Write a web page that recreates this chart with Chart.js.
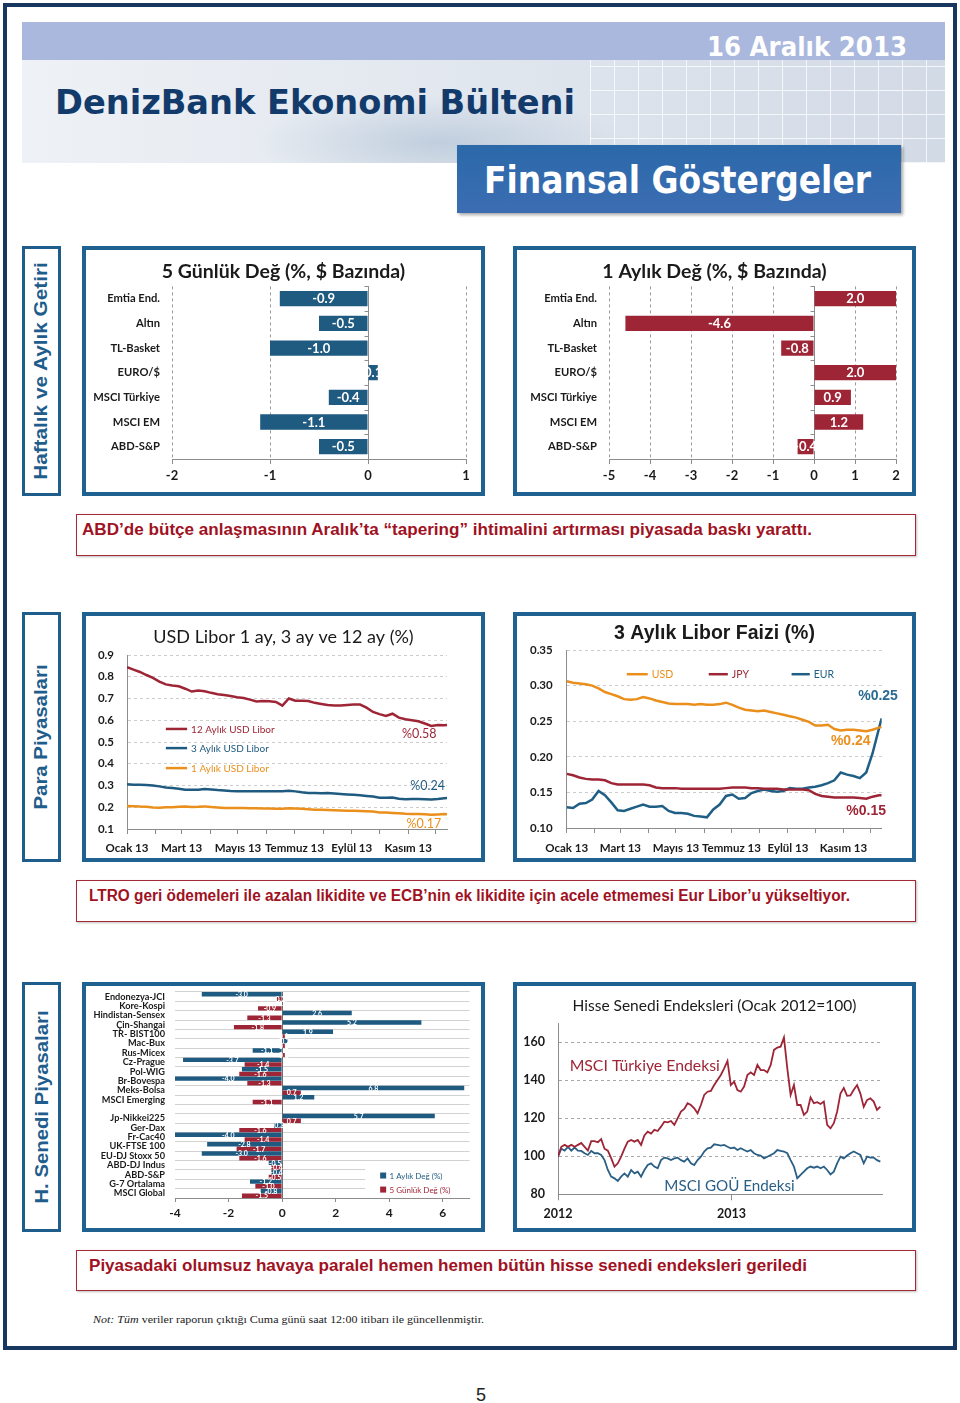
<!DOCTYPE html>
<html lang="tr"><head><meta charset="utf-8">
<title>DenizBank Ekonomi Bülteni - Finansal Göstergeler</title>
<script src="https://cdn.jsdelivr.net/npm/chart.js@4.4.1/dist/chart.umd.min.js"></script>
<style>
*{box-sizing:border-box}
html,body{margin:0;padding:0;background:#fff}
body{position:relative;width:960px;height:1403px;overflow:hidden;font-family:"Liberation Sans",Arial,sans-serif}
.a{position:absolute}
.fit{white-space:nowrap;display:inline-block;transform-origin:0 0}
#frame{left:3px;top:3px;width:954px;height:1347px;border:4px solid #17375e}
#banner{left:22px;top:22px;width:923px;height:141px;background:linear-gradient(90deg,#eef1f5 0%,#e4e9f0 40%,#d2dae6 100%)}
#band{left:22px;top:22px;width:923px;height:38px;background:#a9b8dc}
#grid{left:590px;top:60px;width:355px;height:103px;background-image:repeating-linear-gradient(90deg,rgba(255,255,255,.75) 0 1px,transparent 1px 24px),repeating-linear-gradient(0deg,rgba(255,255,255,.75) 0 1px,transparent 1px 24px)}
#shade{left:250px;top:95px;width:380px;height:68px;background:radial-gradient(ellipse at 50% 70%,rgba(150,175,200,.45),rgba(150,175,200,0) 70%)}
.title{font-family:"DejaVu Sans Condensed","DejaVu Sans",sans-serif;font-weight:bold;line-height:1}
#fbox{left:457px;top:145px;width:444px;height:68px;background:linear-gradient(180deg,#2b69a9,#3c6db3);box-shadow:2px 2px 3px rgba(0,0,0,.35)}
.sec{left:22px;width:39px;height:250px;border:3px solid #1f5d8c;background:#fff}
.vt{position:absolute;white-space:nowrap;font-weight:bold;font-size:18px;line-height:1;color:#1f5d8c;transform-origin:50% 50%}
.panel{width:403px;height:250px;border:4px solid #1f6190;background:#fff}
.panel canvas{display:block}
.cap{left:76px;width:840px;border:1.5px solid #a52a36;background:#fff;box-shadow:1px 1px 2px rgba(0,0,0,.25)}
.ct{font-weight:bold;color:#a0121f;line-height:1}
</style></head>
<body>
<div class="a" id="frame"></div>
<div class="a" id="banner"></div>
<div class="a" id="shade"></div>
<div class="a" id="grid"></div>
<div class="a" id="band"></div>
<span class="a fit title" id="tDate" style="left:707px;top:33px;font-size:27px;color:#fff">16 Aralık 2013</span>
<span class="a fit title" id="tMain" style="left:55px;top:85px;font-size:34px;color:#123a6b">DenizBank Ekonomi Bülteni</span>
<div class="a" id="fbox"></div>
<span class="a fit title" id="tFin" style="left:484px;top:162px;font-size:37px;color:#fff">Finansal Göstergeler</span>

<div class="a sec" style="top:246px"></div>
<div class="a sec" style="top:612px"></div>
<div class="a sec" style="top:982px"></div>
<div class="a" style="left:41px;top:371px"><span class="vt" id="s1">Haftalık ve Aylık Getiri</span></div>
<div class="a" style="left:41px;top:737px"><span class="vt" id="s2">Para Piyasaları</span></div>
<div class="a" style="left:41px;top:1107px"><span class="vt" id="s3">H. Senedi Piyasaları</span></div>

<div class="a panel" style="left:82px;top:246px"><canvas id="c1" width="395" height="242"></canvas></div>
<div class="a panel" style="left:513px;top:246px"><canvas id="c2" width="395" height="242"></canvas></div>
<div class="a panel" style="left:82px;top:612px"><canvas id="c3" width="395" height="242"></canvas></div>
<div class="a panel" style="left:513px;top:612px"><canvas id="c4" width="395" height="242"></canvas></div>
<div class="a panel" style="left:82px;top:982px"><canvas id="c5" width="395" height="242"></canvas></div>
<div class="a panel" style="left:513px;top:982px"><canvas id="c6" width="395" height="242"></canvas></div>

<div class="a cap" style="top:514px;height:42px"></div>
<span class="a fit ct" id="cap1" style="left:82px;top:522px;font-size:16px">ABD’de bütçe anlaşmasının Aralık’ta “tapering” ihtimalini artırması piyasada baskı yarattı.</span>
<div class="a cap" style="top:880px;height:42px"></div>
<span class="a fit ct" id="cap2" style="left:89px;top:888px;font-size:16px">LTRO geri ödemeleri ile azalan likidite ve ECB’nin ek likidite için acele etmemesi Eur Libor’u yükseltiyor.</span>
<div class="a cap" style="top:1250px;height:41px"></div>
<span class="a fit ct" id="cap3" style="left:89px;top:1257px;font-size:17px">Piyasadaki olumsuz havaya paralel hemen hemen bütün hisse senedi endeksleri geriledi</span>
<span class="a fit" id="note" style="left:93px;top:1314px;font-family:'Liberation Serif','Times New Roman',serif;font-size:11px;line-height:1;color:#222"><i>Not: Tüm</i> veriler raporun çıktığı Cuma günü saat 12:00 itibarı ile güncellenmiştir.</span>
<span class="a" style="left:476px;top:1386px;font-size:18px;line-height:1;color:#222">5</span>

<script>
// ===================== DATA =====================
// Chart 1 & 2 : weekly / monthly change (%, USD based)
const assetLabels = ['Emtia End.','Altın','TL-Basket','EURO/$','MSCI Türkiye','MSCI EM','ABD-S&P'];
const change5d = [-0.9,-0.5,-1.0,0.1,-0.4,-1.1,-0.5];
const change1m = [2.0,-4.6,-0.8,2.0,0.9,1.2,-0.4];

// Chart 3 & 4 : Libor rates 2013 (x = day of year)
const liborDays = [0,7,14,21,28,35,42,49,56,63,70,77,84,91,98,105,112,119,126,133,140,147,154,161,168,175,182,189,196,203,210,217,224,231,238,245,252,259,266,273,280,287,294,301,308,315,322,329,336,343,346];
const monthTickDays = [0,31,59,90,120,151,181,212,243,273,304,334];
const monthTickLabels = ['Ocak 13','','Mart 13','','Mayıs 13','','Temmuz 13','','Eylül 13','','Kasım 13',''];
const libor12mUSD = [0.844,0.833,0.822,0.808,0.795,0.778,0.765,0.760,0.756,0.745,
  0.732,0.737,0.733,0.726,0.720,0.716,0.711,0.706,0.702,0.695,
  0.686,0.688,0.687,0.684,0.667,0.700,0.690,0.690,0.688,0.680,
  0.675,0.670,0.668,0.668,0.670,0.672,0.672,0.658,0.638,0.628,
  0.620,0.630,0.612,0.605,0.600,0.595,0.585,0.574,0.578,0.577,0.578];
const libor3mUSD = [0.306,0.304,0.303,0.302,0.300,0.296,0.291,0.288,0.285,0.281,
  0.280,0.281,0.284,0.282,0.279,0.277,0.275,0.274,0.274,0.274,
  0.273,0.274,0.273,0.273,0.274,0.276,0.273,0.269,0.266,0.265,
  0.264,0.265,0.263,0.261,0.259,0.257,0.255,0.252,0.249,0.244,
  0.244,0.245,0.239,0.237,0.238,0.238,0.237,0.236,0.238,0.241,0.242];
const libor1mUSD = [0.206,0.205,0.203,0.202,0.199,0.198,0.200,0.200,0.202,0.203,
  0.201,0.202,0.204,0.201,0.199,0.197,0.197,0.196,0.196,0.195,
  0.195,0.194,0.194,0.193,0.193,0.195,0.194,0.193,0.191,0.189,
  0.188,0.187,0.186,0.185,0.184,0.184,0.183,0.182,0.180,0.176,
  0.176,0.174,0.172,0.170,0.169,0.169,0.168,0.165,0.167,0.169,0.168];
const libor3mJPY = [0.176,0.174,0.171,0.169,0.168,0.168,0.167,0.163,0.161,0.161,
  0.161,0.161,0.161,0.160,0.157,0.156,0.156,0.156,0.155,0.155,
  0.155,0.155,0.155,0.155,0.155,0.156,0.157,0.157,0.157,0.156,
  0.156,0.155,0.155,0.155,0.154,0.154,0.154,0.154,0.153,0.148,
  0.145,0.144,0.143,0.143,0.143,0.143,0.142,0.141,0.144,0.146,0.146];
const libor3mEUR = [0.129,0.128,0.134,0.135,0.140,0.152,0.146,0.136,0.125,0.124,
  0.127,0.130,0.133,0.130,0.130,0.131,0.124,0.121,0.121,0.120,
  0.117,0.116,0.115,0.126,0.133,0.145,0.147,0.141,0.142,0.149,
  0.152,0.154,0.152,0.151,0.152,0.156,0.155,0.155,0.157,0.158,
  0.160,0.163,0.167,0.178,0.175,0.173,0.170,0.178,0.205,0.240,0.254];
const libor12Ticks = [0.1,0.2,0.3,0.4,0.5,0.6,0.7,0.8,0.9];
const libor3Ticks = [0.10,0.15,0.20,0.25,0.30,0.35];

// Chart 5 : stock market indices (1 month and 5 day change, %)
const marketLabels = ['Endonezya-JCI','Kore-Kospi','Hindistan-Sensex','Çin-Shangai','TR- BIST100','Mac-Bux','Rus-Micex','Cz-Prague','Pol-WIG','Br-Bovespa','Meks-Bolsa','MSCI Emerging','','Jp-Nikkei225','Ger-Dax','Fr-Cac40','UK-FTSE 100','EU-DJ Stoxx 50','ABD-DJ Indus','ABD-S&P','G-7 Ortalama','MSCI Global'];
const market1m = [-3.0,0.0,2.6,5.2,1.9,0.2,-1.1,-3.7,-1.5,-4.0,6.8,1.2,null,5.7,-0.3,-4.0,-2.8,-3.0,-0.5,-0.4,-1.2,-0.8];
const market5d = [-0.2,-0.9,-1.3,-1.8,0.1,0.1,0.1,-1.4,-1.6,-1.3,0.7,-1.1,null,0.7,-1.6,-1.4,-1.7,-1.6,-0.4,-0.5,-1.0,-1.5];
const marketTicks = [-4,-2,0,2,4,6];

// Chart 6 : equity indices (Jan 2012 = 100), weekly
const msciTurkey = [100,105,106,105,106,105,106,107,105,103,
  108,108,107.4,109,104,103,99,94.6,96.3,99.8,
  104,107.7,108.6,107.7,108.6,106,111,113,112,113.9,
  113.3,115.6,118.2,117.9,118.6,116.5,120,123.5,124.9,127.9,
  127,125.3,122.6,127,132.3,134,134.4,137.5,140.2,142.8,
  146.3,150.2,137.5,139.3,134.9,134,136.7,142.8,144.2,142.8,
  148.1,145.4,145.4,144.2,148.1,156,157.2,157.7,162.5,146.3,
  132.3,137.5,127,127,121.8,123.5,131,128,128.5,127.5,
  128.8,116.5,114.7,117.4,123.5,133,136,131.8,132,135,
  137.5,133,126,129.6,130.5,128.8,124.4,126.1];
const msciEM = [99.8,104,103,105,103,104.6,103,102.8,101.6,100.7,
  102.8,101.6,101.6,100.7,98,92.8,89.3,88.4,87,89.3,
  91,89.3,92.8,91,91.9,89.3,92.8,95.4,96.3,94.6,
  93.7,98,99.3,98.9,98,98.9,99.3,98,97.2,98.9,
  96.3,95.4,98,99.8,102.5,104.2,104.6,106.3,106,105.6,
  106,105,104.2,104.6,103.3,104.2,103.3,102.5,103.3,101.6,
  100.7,100.4,98.9,99.8,100.7,101.6,103.3,102.8,102.5,101.6,
  98,94.6,88.4,90.2,91.9,93.7,94.6,94,94.6,93.7,
  94.6,92.8,90.5,91.9,96.3,99.8,98.9,100.4,101.6,102.5,
  101.6,100.7,96.3,99.8,99.3,99.3,98,97.2];
const yearTickWeeks = [0,52.2];
const yearTickLabels = ['2012','2013'];
const indexTicks = [80,100,120,140,160];

// ===================== STYLE =====================
const CAL = 'Lato, "Open Sans", sans-serif';
const ARIAL = '"Liberation Sans", Arial, sans-serif';
const BLUE = '#1f5a80', RED = '#9e2536', ORANGE = '#ea8f1c', TXT = '#1a1a1a', AX = '#8c8c8c';
Chart.defaults.font.family = CAL;
Chart.defaults.color = TXT;

const xy = (xs, ys) => ys.map((y, i) => ({x: xs[i], y}));
const setTicks = arr => function(s){ s.ticks = arr.map(v => ({value: v})); };
// invisible right-hand spacer axis (keeps the plot area where the original has it while the title stays centred)
const spacer = (axis, w) => ({type:'linear', axis, position:'right', display:true, grid:{display:false}, border:{display:false},
  ticks:{display:false}, afterFit(s){ s.width = w; }});

// ===================== PLUGINS =====================
const zeroAxis = {id:'zeroAxis', beforeDatasetsDraw(chart, a, o){
  if(!o || !o.show) return;
  const xs = chart.scales.x, ys = chart.scales.y, ca = chart.chartArea, c = chart.ctx;
  const x = Math.round(xs.getPixelForValue(0)) + 0.5;
  c.save(); c.strokeStyle = o.color; c.lineWidth = 1; c.beginPath();
  c.moveTo(x, ca.top); c.lineTo(x, ca.bottom);
  if(o.ticks){ const n = chart.data.labels.length;
    for(let i = 0; i <= n; i++){ const y = Math.round(ys.getPixelForValue(i - 0.5)) + 0.5; c.moveTo(x - 4, y); c.lineTo(x, y); } }
  c.stroke(); c.restore();
}};
const barValues = {id:'barValues', afterDatasetsDraw(chart, a, o){
  if(!o || !o.font) return;
  const c = chart.ctx; c.save(); c.font = o.font; c.fillStyle = o.color; c.textAlign = 'center'; c.textBaseline = 'middle';
  chart.data.datasets.forEach((ds, di) => {
    chart.getDatasetMeta(di).data.forEach((el, i) => { const v = ds.data[i]; if(v == null) return;
      c.fillText(v.toFixed(1), (el.x + el.base) / 2, el.y + 0.5); });
  });
  c.restore();
}};
const notes = {id:'notes', afterDraw(chart, a, o){
  if(!o) return;
  const c = chart.ctx, xs = chart.scales.x, ys = chart.scales.y, ca = chart.chartArea;
  c.save();
  if(o.rect){ c.fillStyle = '#fff'; const y1 = ys.getPixelForValue(o.rect.y1), y2 = ys.getPixelForValue(o.rect.y2), x1 = xs.getPixelForValue(o.rect.x1);
    c.fillRect(x1, y1, ca.right - x1 + 1, y2 - y1); }
  (o.keys || []).forEach(k => { const y = ys.getPixelForValue(k.y), x1 = xs.getPixelForValue(k.x1), x2 = xs.getPixelForValue(k.x2);
    if(k.square){ c.fillStyle = k.color; c.fillRect(x1, y - 3, 6, 6); }
    else { c.strokeStyle = k.color; c.lineWidth = 2.5; c.beginPath(); c.moveTo(x1, y); c.lineTo(x2, y); c.stroke(); }
    c.font = k.font; c.fillStyle = k.color; c.textAlign = 'left'; c.textBaseline = 'middle'; c.fillText(k.text, x2 + 4, y + 0.5); });
  (o.texts || []).forEach(t => { c.font = t.font; c.fillStyle = t.color; c.textAlign = t.align || 'center'; c.textBaseline = 'middle';
    c.fillText(t.text, xs.getPixelForValue(t.x), ys.getPixelForValue(t.y)); });
  c.restore();
}};
Chart.register(zeroAxis, barValues, notes);

const base = {responsive:false, animation:false, devicePixelRatio:1, events:[]};

// ===================== CHART 1 & 2 =====================
function changeChart(id, values, color, xmin, xmax, yWidth, padR, title){
  return new Chart(document.getElementById(id), {
    type:'bar',
    data:{labels:assetLabels, datasets:[{data:values, backgroundColor:color, barPercentage:0.62, categoryPercentage:1}]},
    options:Object.assign({}, base, {
      indexAxis:'y',
      layout:{padding:0},
      plugins:{legend:{display:false}, tooltip:{enabled:false},
        title:{display:true, text:title, color:TXT, font:{family:CAL, size:19.5, weight:'bold'}, padding:{top:10.5, bottom:2.5}},
        barValues:{font:'bold 13px ' + CAL, color:'#fff'},
        zeroAxis:{show:true, color:AX, ticks:true}},
      scales:{
        x:{min:xmin, max:xmax, ticks:{stepSize:1, color:TXT, font:{size:13, weight:'bold'}, padding:4},
           grid:{color:'#9a9a9a', tickColor:AX, tickLength:5}, border:{color:AX, dash:[3,3]},
           afterFit(s){ s.height = 33; }},
        y:{ticks:{color:TXT, font:{size:11.2, weight:'bold'}, padding:4, autoSkip:false},
           grid:{display:false}, border:{display:false}, afterFit(s){ s.width = yWidth; }},
        yR:spacer('y', padR)
      }
    })
  });
}
changeChart('c1', change5d, BLUE, -2, 1, 86, 15, '5 Günlük Değ (%, $ Bazında)');
changeChart('c2', change1m, RED, -5, 2, 92, 16, '1 Aylık Değ (%, $ Bazında)');

// ===================== CHART 3 =====================
const lineDs = (data, color, w) => ({data, borderColor:color, backgroundColor:color, borderWidth:w, pointRadius:0, tension:0, fill:false});
const monthAxis = (height, pad) => ({type:'linear', min:0, max:346, afterBuildTicks:setTicks(monthTickDays),
  ticks:{autoSkip:false, maxRotation:0, callback:(v, i) => monthTickLabels[i], color:TXT, font:{size:11.5, weight:'bold'}, padding:pad},
  grid:{drawOnChartArea:false, color:AX, tickLength:5}, border:{color:AX}, afterFit(s){ s.height = height; }});

new Chart(document.getElementById('c3'), {
  type:'line',
  data:{datasets:[
    lineDs(xy(liborDays, libor12mUSD), RED, 2.5),
    lineDs(xy(liborDays, libor3mUSD), BLUE, 2.5),
    lineDs(xy(liborDays, libor1mUSD), ORANGE, 2.5)]},
  options:Object.assign({}, base, {
    layout:{padding:0},
    plugins:{legend:{display:false}, tooltip:{enabled:false},
      title:{display:true, text:'USD Libor 1 ay, 3 ay ve 12 ay (%)', color:TXT, font:{family:CAL, size:18, weight:'normal'}, padding:{top:10, bottom:7.4}},
      notes:{
        keys:[
          {text:'12 Aylık USD Libor', color:RED, x1:42, x2:65, y:0.560, font:'10px ' + CAL},
          {text:'3 Aylık USD Libor', color:BLUE, x1:42, x2:65, y:0.472, font:'10px ' + CAL},
          {text:'1 Aylık USD Libor', color:ORANGE, x1:42, x2:65, y:0.380, font:'10px ' + CAL}],
        texts:[
          {text:'%0.58', color:RED, x:316, y:0.537, font:'12.5px ' + CAL},
          {text:'%0.24', color:BLUE, x:325, y:0.298, font:'12.5px ' + CAL},
          {text:'%0.17', color:ORANGE, x:321, y:0.123, font:'12.5px ' + CAL}]}},
    scales:{
      x:monthAxis(29, 7),
      y:{min:0.1, max:0.9, afterBuildTicks:setTicks(libor12Ticks),
         ticks:{callback:v => v.toFixed(1), color:TXT, font:{size:11.5, weight:'bold'}, padding:13},
         grid:{color:'#cccccc', drawTicks:false}, border:{color:AX, dash:[3,3]}, afterFit(s){ s.width = 41; }},
      yR:spacer('y', 34)
    }
  })
});

// ===================== CHART 4 =====================
new Chart(document.getElementById('c4'), {
  type:'line',
  data:{datasets:[
    lineDs(xy(liborDays, libor3mUSD), ORANGE, 2.5),
    lineDs(xy(liborDays, libor3mJPY), RED, 2.5),
    lineDs(xy(liborDays, libor3mEUR), '#1f5f85', 2.5)]},
  options:Object.assign({}, base, {
    layout:{padding:0},
    plugins:{legend:{display:false}, tooltip:{enabled:false},
      title:{display:true, text:'3 Aylık Libor Faizi (%)', color:TXT, font:{family:ARIAL, size:19.5, weight:'bold'}, padding:{top:6, bottom:4.6}},
      notes:{
        keys:[
          {text:'USD', color:ORANGE, x1:66, x2:89, y:0.316, font:'10.5px ' + CAL},
          {text:'JPY', color:RED, x1:156, x2:177, y:0.316, font:'10.5px ' + CAL},
          {text:'EUR', color:'#1f5f85', x1:247, x2:267, y:0.316, font:'10.5px ' + CAL}],
        texts:[
          {text:'%0.25', color:'#2a6a92', x:342, y:0.2854, font:'bold 14px ' + ARIAL},
          {text:'%0.24', color:ORANGE, x:312, y:0.222, font:'bold 14px ' + ARIAL},
          {text:'%0.15', color:RED, x:329, y:0.124, font:'bold 14px ' + ARIAL}]}},
    scales:{
      x:monthAxis(30, 8),
      y:{min:0.10, max:0.35, afterBuildTicks:setTicks(libor3Ticks),
         ticks:{callback:v => v.toFixed(2), color:TXT, font:{size:11.5, weight:'bold'}, padding:14},
         grid:{color:'#cccccc', drawTicks:false}, border:{color:AX, dash:[3,3]}, afterFit(s){ s.width = 49.7; }},
      yR:spacer('y', 30.3)
    }
  })
});

// ===================== CHART 5 =====================
new Chart(document.getElementById('c5'), {
  type:'bar',
  data:{labels:marketLabels, datasets:[
    {label:'1 Aylık Değ (%)', data:market1m, backgroundColor:BLUE, barPercentage:0.95, categoryPercentage:1},
    {label:'5 Günlük Değ (%)', data:market5d, backgroundColor:RED, barPercentage:0.95, categoryPercentage:1}]},
  options:Object.assign({}, base, {
    indexAxis:'y',
    layout:{padding:{left:0, right:11.4, top:6, bottom:0}},
    plugins:{legend:{display:false}, tooltip:{enabled:false},
      barValues:{font:'bold 7px ' + CAL, color:'#fff'},
      zeroAxis:{show:true, color:'#6f6f6f', ticks:false},
      notes:{rect:{x1:3.1, y1:17.95, y2:21.4},
        keys:[
          {text:'1 Aylık Değ (%)', color:BLUE, square:true, x1:3.66, x2:3.86, y:19.1, font:'8px ' + CAL},
          {text:'5 Günlük Değ (%)', color:RED, square:true, x1:3.66, x2:3.86, y:20.6, font:'8px ' + CAL}]}},
    scales:{
      x:{min:-4, max:7, afterBuildTicks:setTicks(marketTicks), ticks:{color:TXT, font:{size:12, weight:'bold'}, padding:4},
         grid:{drawOnChartArea:false, color:AX, tickLength:4}, border:{color:AX}, afterFit(s){ s.height = 30; }},
      y:{ticks:{color:TXT, font:{size:9.2, weight:'bold'}, padding:0, autoSkip:false},
         grid:{color:'#d2d2d2', drawTicks:true, tickLength:10, tickColor:'rgba(0,0,0,0)'}, border:{display:false}, afterFit(s){ s.width = 89; }}
    }
  })
});

// ===================== CHART 6 =====================
new Chart(document.getElementById('c6'), {
  type:'line',
  data:{datasets:[
    lineDs(msciTurkey.map((y, i) => ({x:i, y})), RED, 1.8),
    lineDs(msciEM.map((y, i) => ({x:i, y})), '#2a5f85', 1.8)]},
  options:Object.assign({}, base, {
    layout:{padding:0},
    plugins:{legend:{display:false}, tooltip:{enabled:false},
      title:{display:true, text:'Hisse Senedi Endeksleri (Ocak 2012=100)', color:TXT, font:{family:CAL, size:15.5, weight:'normal'}, padding:{top:10.5, bottom:8.2}},
      notes:{texts:[
        {text:'MSCI Türkiye Endeksi', color:RED, x:3.5, y:147.5, align:'left', font:'15.8px ' + CAL},
        {text:'MSCI GOÜ Endeksi', color:'#2a5f85', x:32, y:84.4, align:'left', font:'15.2px ' + CAL}]}},
    scales:{
      x:{type:'linear', min:0, max:97.5, afterBuildTicks:setTicks(yearTickWeeks),
         ticks:{autoSkip:false, maxRotation:0, callback:(v, i) => yearTickLabels[i], color:TXT, font:{size:12.5, weight:'bold'}, padding:6},
         grid:{drawOnChartArea:false, color:AX, tickLength:6}, border:{color:AX}, afterFit(s){ s.height = 33.7; }},
      y:{min:80, max:170, afterBuildTicks:setTicks(indexTicks),
         ticks:{color:TXT, font:{size:12.5, weight:'bold'}, padding:13},
         grid:{color:'#a8a8a8', drawTicks:false}, border:{color:AX, dash:[3,3]}, afterFit(s){ s.width = 41; }},
      yR:spacer('y', 30)
    }
  })
});

// ===================== TEXT FITTING =====================
function fitW(id, w){ const e = document.getElementById(id); const r = e.getBoundingClientRect().width; if(r > 0) e.style.transform = 'scaleX(' + (w / r) + ')'; }
fitW('tDate', 200); fitW('tMain', 520); fitW('tFin', 387);
fitW('cap1', 730); fitW('cap2', 761); fitW('cap3', 718); fitW('note', 391);
function fitV(id, h){ const e = document.getElementById(id); const w = e.offsetWidth, hh = e.offsetHeight;
  e.style.left = (-w / 2) + 'px'; e.style.top = (-hh / 2) + 'px';
  e.style.transform = 'rotate(-90deg) scaleX(' + (h / w) + ')'; }
fitV('s1', 218); fitV('s2', 145); fitV('s3', 193);
</script>
</body></html>
